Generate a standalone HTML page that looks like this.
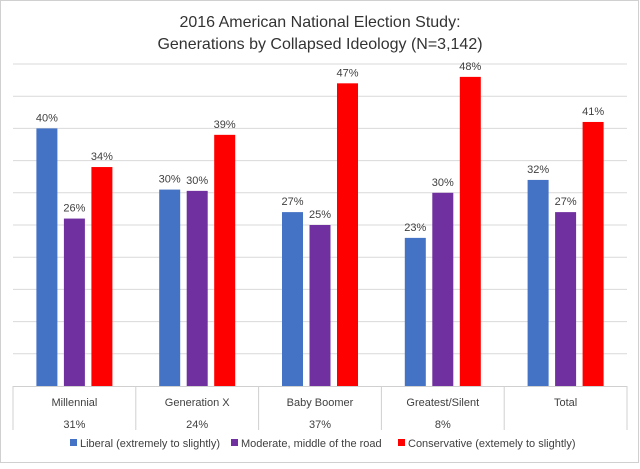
<!DOCTYPE html>
<html><head><meta charset="utf-8"><style>
body{margin:0;background:#fff;font-family:"Liberation Sans",sans-serif}
#wrap{position:relative;width:640px;height:464px}
</style></head><body>
<div id="wrap">
<svg id="c" width="640" height="464" xmlns="http://www.w3.org/2000/svg">
<rect x="0.5" y="0.5" width="638" height="462" fill="#fff" stroke="#d0d0d0"/>
<text x="320" y="27" text-anchor="middle" font-size="16" fill="#333">2016 American National Election Study:</text>
<text x="320" y="49" text-anchor="middle" font-size="16" fill="#333">Generations by Collapsed Ideology (N=3,142)</text>
<g id="grid"></g><g id="bars"></g><g id="table"></g><g id="legend"></g>
</svg></div>
<script>
const categories=["Millennial","Generation X","Baby Boomer","Greatest/Silent","Total"];
const shares=["31%","24%","37%","8%",""];
const liberal=[40,30.5,27,23,32];
const moderate=[26,30.3,25,30,27];
const conservative=[34,39,47,48,41];
const valueLabels=[["40%","30%","27%","23%","32%"],["26%","30%","25%","30%","27%"],["34%","39%","47%","48%","41%"]];
const seriesNames=["Liberal (extremely to slightly)","Moderate, middle of the road","Conservative (extemely to slightly)"];
const gridTicks=[0,5,10,15,20,25,30,35,40,45,50];
const colors=["#4472c4","#7030a0","#ff0000"];
const NS="http://www.w3.org/2000/svg";
const L=13,R=627,B=386,T=64,maxV=50;
const y=v=>B-(B-T)*v/maxV;
const cw=(R-L)/categories.length;
const cx=i=>L+cw*(i+0.5);
function mk(tag,attrs,parent){const e=document.createElementNS(NS,tag);for(const k in attrs)e.setAttribute(k,attrs[k]);parent.appendChild(e);return e;}
const g=document.getElementById('grid');
gridTicks.forEach(t=>{if(t===0)return;
 const l=mk('line',{x1:L,x2:R,y1:y(t),y2:y(t),stroke:'#d9d9d9','stroke-width':1},g);
 
 });
const b=document.getElementById('bars');
[liberal,moderate,conservative].forEach((s,si)=>{
 s.forEach((v,i)=>{
  const x=cx(i)+(si-1)*27.5-10.5;
  const r=mk('rect',{x:x,y:y(v),width:21,height:B-y(v),fill:colors[si]},b);
  
  
  const t=mk('text',{x:x+10.5,y:y(v)-7,'text-anchor':'middle','font-size':'11',fill:'#404040'},b);
  t.textContent=valueLabels[si][i];
  
  
 });
});
const tb=document.getElementById('table');
const bl=mk('line',{x1:L,x2:R,y1:B+0.5,y2:B+0.5,stroke:'#d0d0d0'},tb);


for(let i=0;i<=categories.length;i++){
 const vl=mk('line',{x1:L+cw*i,x2:L+cw*i,y1:B,y2:430,stroke:'#d0d0d0'},tb);
 
 
}
categories.forEach((c,i)=>{
 const t=mk('text',{x:cx(i),y:406,'text-anchor':'middle','font-size':'11',fill:'#404040'},tb);
 t.textContent=c;
 
 
 const s=mk('text',{x:cx(i),y:428,'text-anchor':'middle','font-size':'11',fill:'#404040'},tb);
 s.textContent=shares[i];
 
 
});
const lg=document.getElementById('legend');
const lx=[70,231,398];
seriesNames.forEach((n,i)=>{
 const r=mk('rect',{x:lx[i],y:439,width:7,height:7,fill:colors[i]},lg);
 
 
 const t=mk('text',{x:lx[i]+10,y:447,'font-size':'11',fill:'#404040'},lg);
 t.textContent=n;
 
 
});
</script></body></html>
